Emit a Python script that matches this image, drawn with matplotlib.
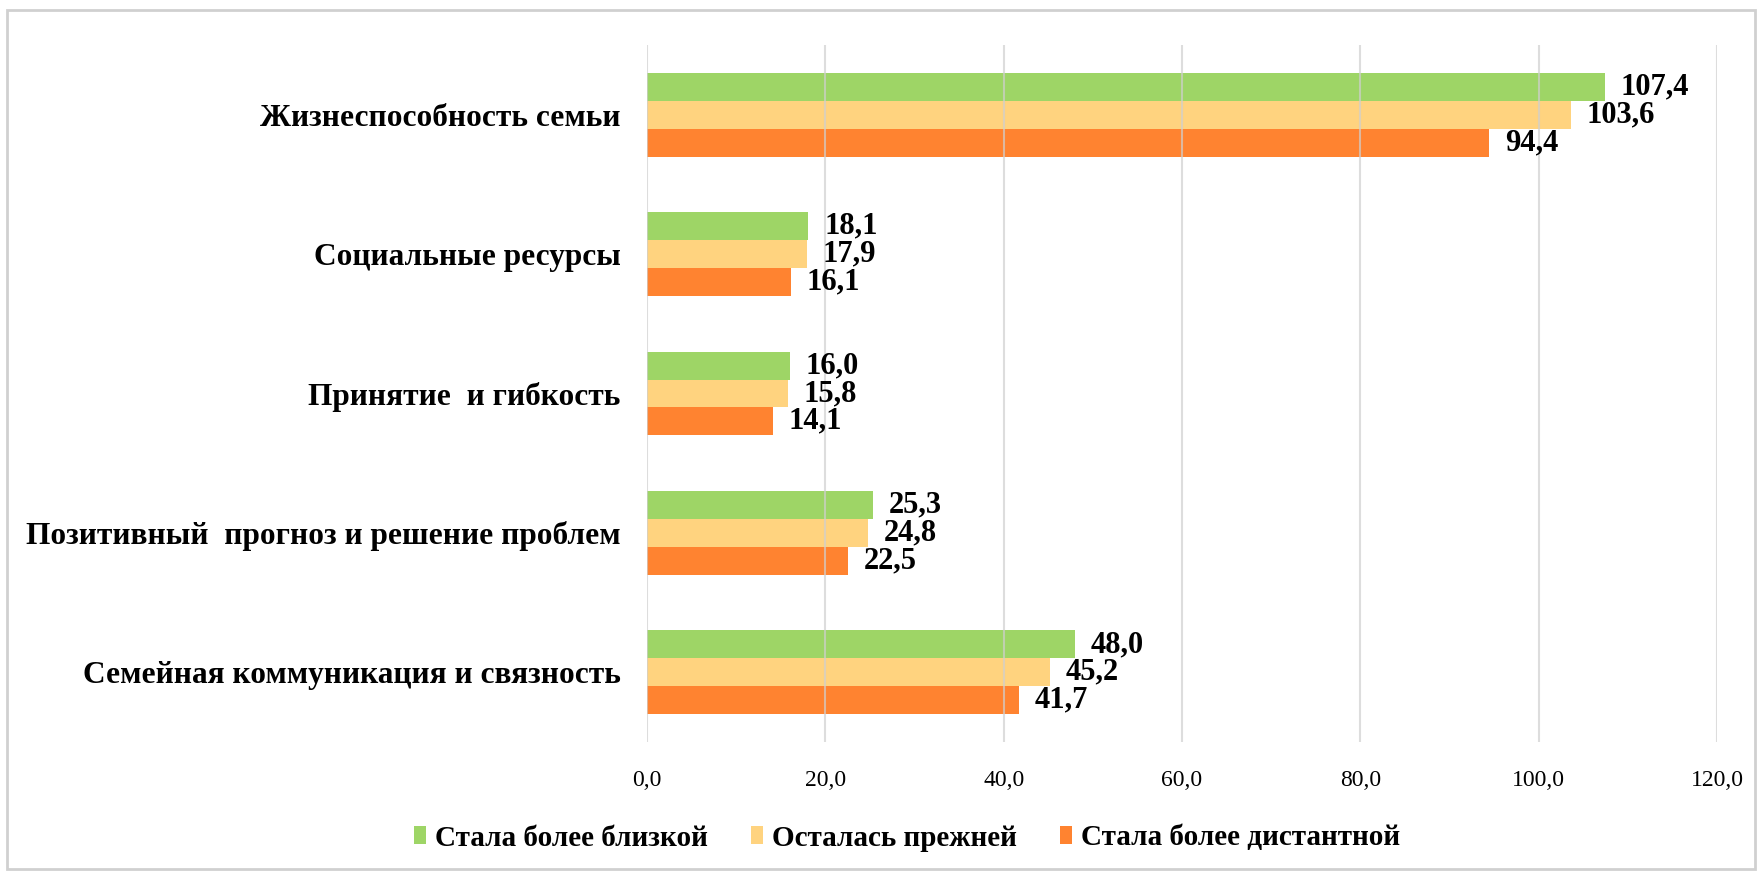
import matplotlib
matplotlib.use("Agg")
import matplotlib.pyplot as plt
import numpy as np
from matplotlib.patches import Rectangle

# данные
categorias = ["Семейная коммуникация и связность",
              "Позитивный  прогноз и решение проблем",
              "Принятие  и гибкость",
              "Социальные ресурсы",
              "Жизнеспособность семьи"]
series = ["Стала более близкой", "Осталась прежней", "Стала более дистантной"]
blizkoy = [48.0, 25.3, 16.0, 18.1, 107.4]
prezhney = [45.2, 24.8, 15.8, 17.9, 103.6]
distantnoy = [41.7, 22.5, 14.1, 16.1, 94.4]
colores = ["#9ed566", "#ffd37f", "#ff8330"]
xticks = [0, 20, 40, 60, 80, 100, 120]

plt.rcParams['font.family'] = ['Liberation Serif', 'DejaVu Serif']

fig = plt.figure(figsize=(17.62, 8.76), dpi=100)
ax = fig.add_axes([647/1762, 1 - 742/876, (1717-647)/1762, (742-45)/876])

# marco gris alrededor de la figura
fig.patches.append(Rectangle((7/1762, 7/876), 1 - 14/1762, 1 - 17/876,
                             transform=fig.transFigure, fill=False,
                             edgecolor='#d0d0d0', linewidth=2))

y = np.arange(len(categorias))
h = 0.2
valores = [blizkoy, prezhney, distantnoy]
offsets = [h, 0, -h]
for vals, off, col, lab in zip(valores, offsets, colores, series):
    barras = ax.barh(y + off, vals, height=h, color=col, label=lab, zorder=2)
    for b, v in zip(barras, vals):
        ax.text(v + 1.8, b.get_y() + h/2, f"{v:.1f}".replace(".", ","),
                va='center', ha='left', fontsize=22, fontweight='bold')

ax.set_xlim(0, 120)
ax.set_ylim(-0.5, 4.5)
ax.set_xticks(xticks)
ax.set_xticklabels([f"{t:.1f}".replace(".", ",") for t in xticks], fontsize=17)
ax.set_yticks(y)
ax.set_yticklabels(categorias, fontsize=22.6, fontweight='bold')
ax.tick_params(axis='both', length=0)
ax.tick_params(axis='y', pad=19)
ax.tick_params(axis='x', pad=20)
for s in ax.spines.values():
    s.set_visible(False)
ax.xaxis.grid(True, color='#cfcfcf', linewidth=1.5, zorder=3, alpha=0.7)
ax.set_axisbelow(False)

fig.legend(loc='center', bbox_to_anchor=(907/1762, 1 - 838/876), ncol=3,
           frameon=False, prop={'size': 21, 'weight': 'bold'},
           handlelength=0.4, handleheight=0.6, handletextpad=0.3, columnspacing=1.5)

plt.savefig("out.png", dpi=100)
